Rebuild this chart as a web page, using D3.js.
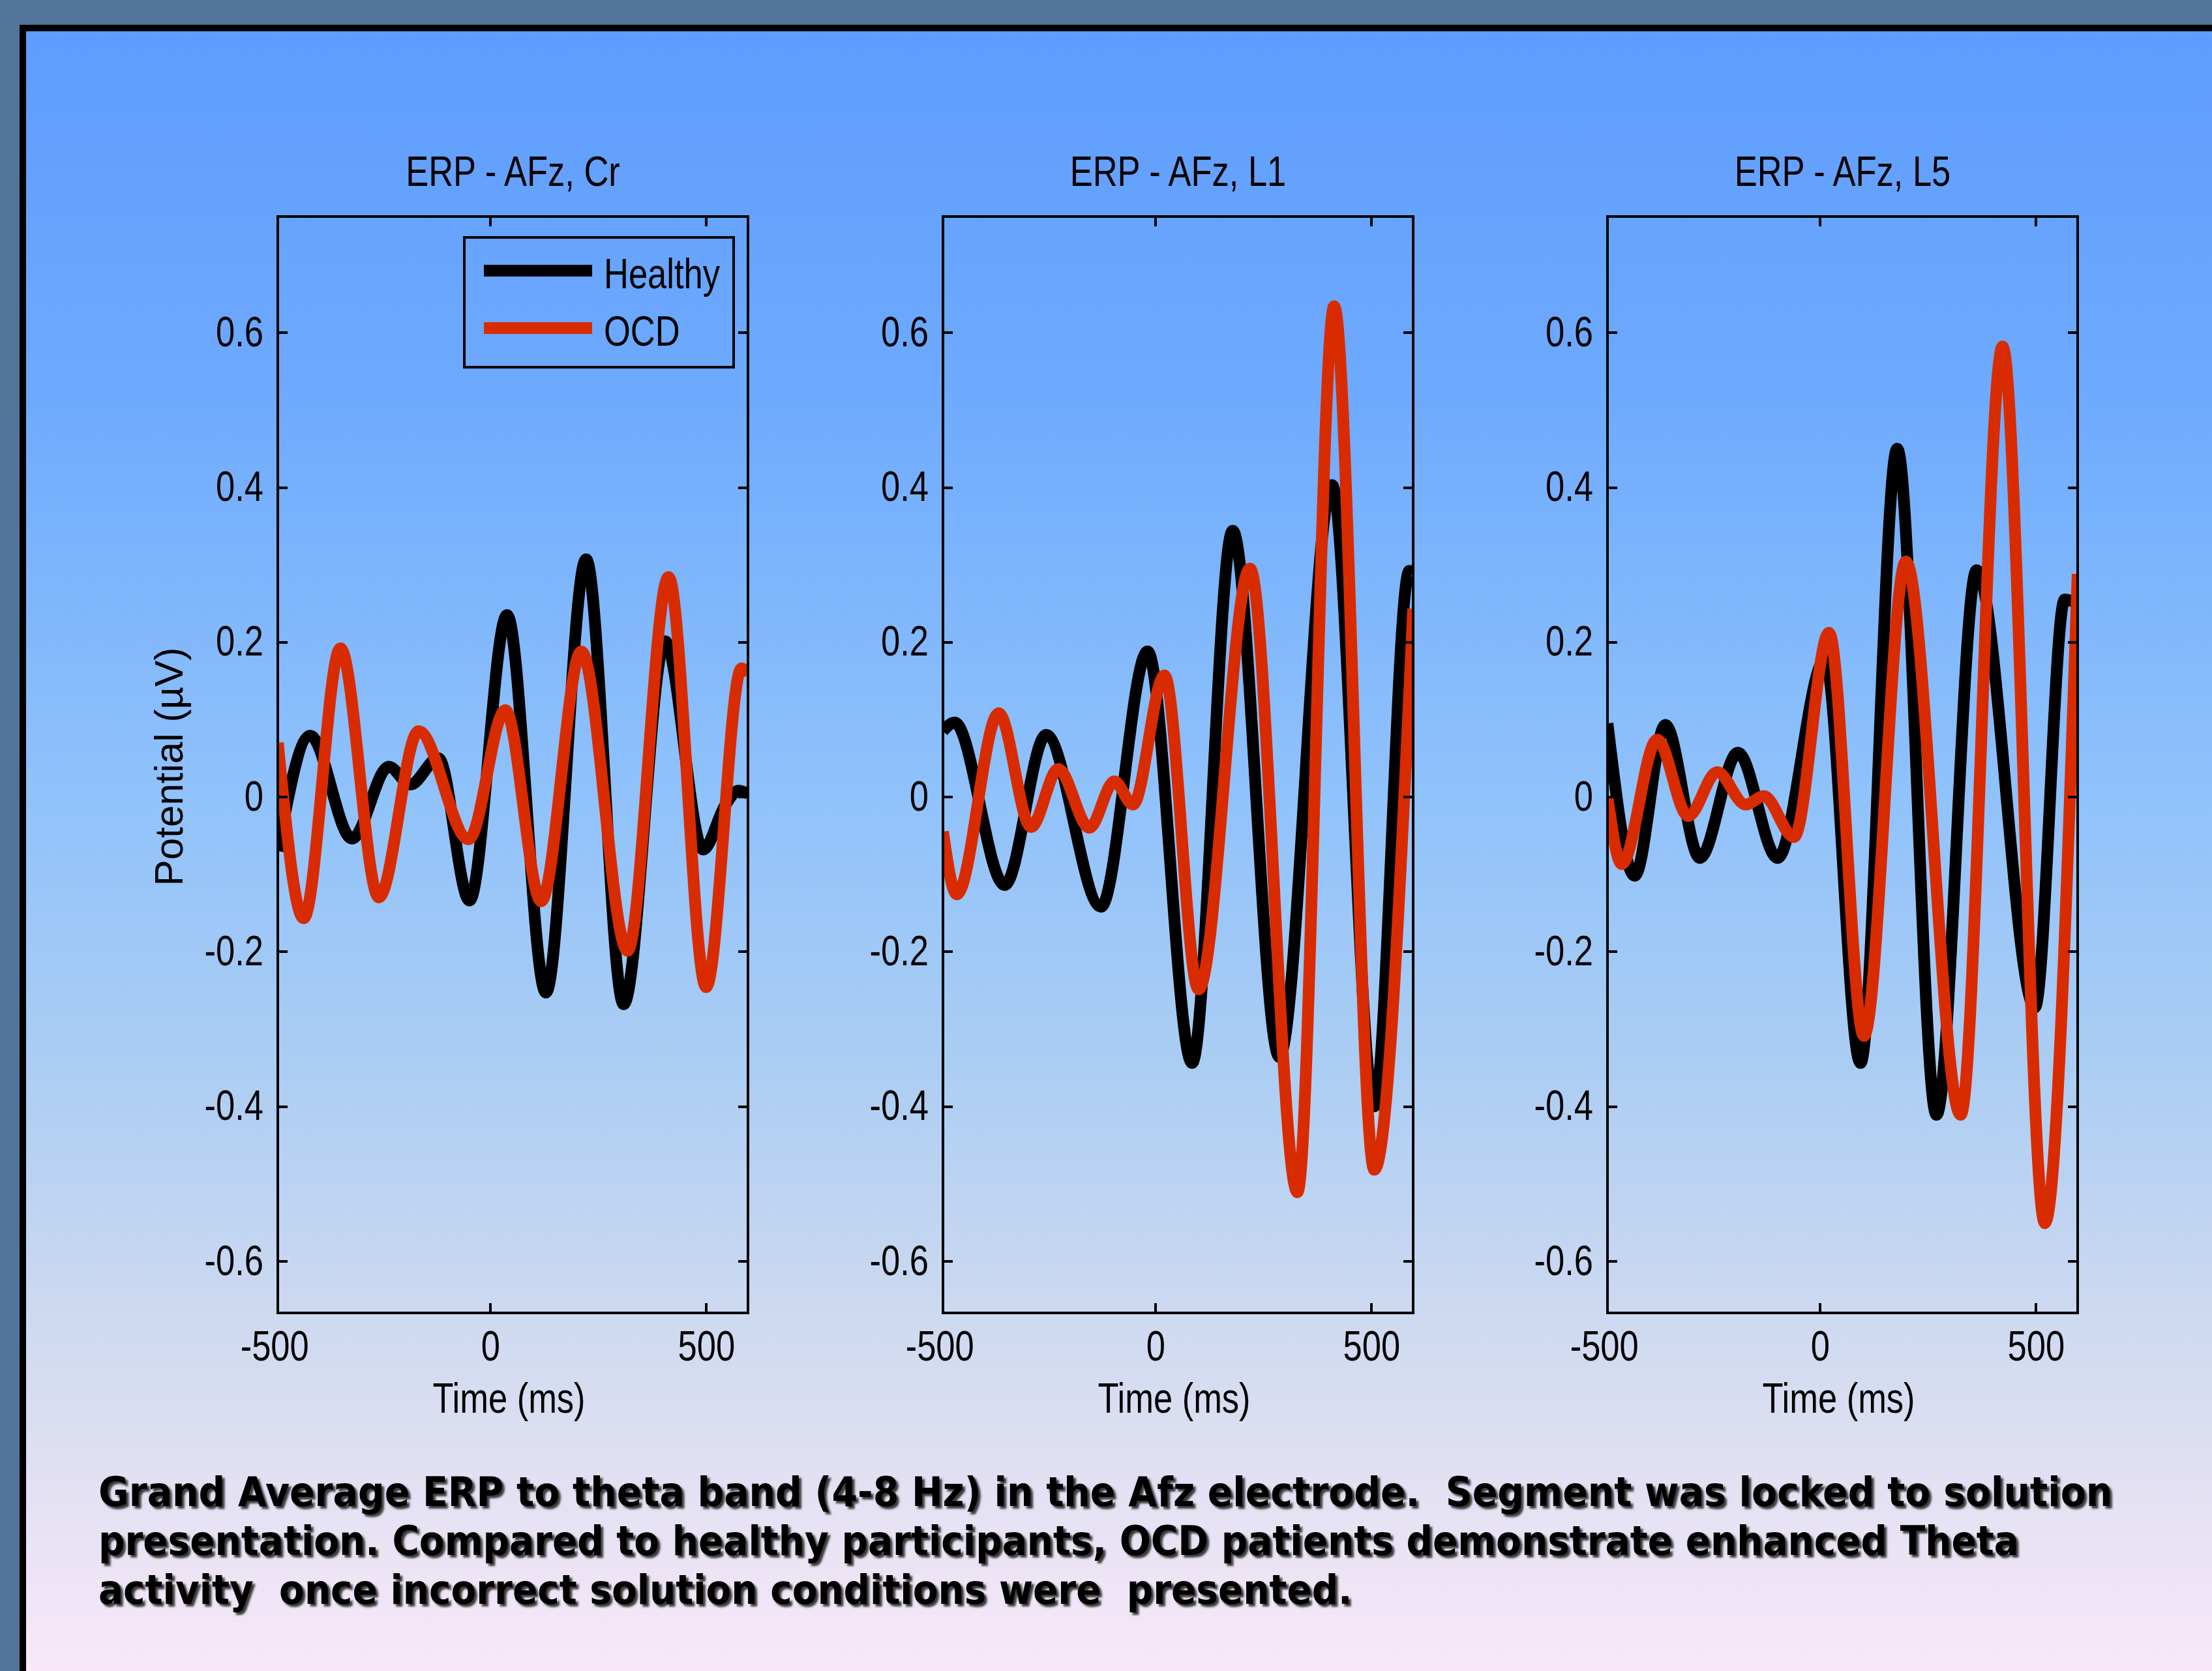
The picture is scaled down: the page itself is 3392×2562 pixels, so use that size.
<!DOCTYPE html>
<html>
<head>
<meta charset="utf-8">
<script src="https://cdn.jsdelivr.net/npm/d3@7"></script>
<style>
  html, body { margin: 0; padding: 0; background: #52739a; }
  svg { display: block; }
  .axis text, .lbl { font-family: "Liberation Sans", Arial, sans-serif; font-size: 64px; fill: #000; }
  .caption { font-family: "DejaVu Sans", Verdana, sans-serif; font-weight: bold; font-size: 62px; fill: #000; white-space: pre; }
</style>
</head>
<body>
<div id="chart"></div>
<script>
"use strict";

// values at each trace's turning points (ms, µV)
var crHealthyTime = [-492, -417, -320, -235, -185, -120, -48, 39, 129, 222, 309, 405, 493, 545, 575, 597];
var crHealthy     = [-0.07, 0.079, -0.054, 0.039, 0.016, 0.05, -0.134, 0.235, -0.253, 0.307, -0.268, 0.201, -0.068, -0.01, 0.008, 0.004];
var crOcdTime = [-492, -432, -347, -258, -166, -50, 35, 118, 211, 318, 413, 500, 582, 597];
var crOcd     = [0.07, -0.157, 0.192, -0.130, 0.085, -0.055, 0.112, -0.135, 0.188, -0.199, 0.284, -0.246, 0.166, 0.158];

var l1HealthyTime = [-492, -465, -349, -253, -126, -18, 85, 179, 287, 409, 507, 588, 597];
var l1Healthy     = [0.085, 0.096, -0.114, 0.080, -0.142, 0.188, -0.344, 0.344, -0.336, 0.403, -0.40, 0.292, 0.29];
var l1OcdTime = [-492, -460, -363, -288, -225, -153, -95, -52, 21, 100, 219, 329, 414, 507, 597];
var l1Ocd     = [-0.045, -0.126, 0.108, -0.039, 0.036, -0.04, 0.02, -0.01, 0.157, -0.249, 0.295, -0.511, 0.634, -0.482, 0.243];

var l5HealthyTime = [-492, -429, -358, -278, -190, -98, 12, 94, 179, 270, 363, 498, 567, 597];
var l5Healthy     = [0.095, -0.102, 0.093, -0.079, 0.057, -0.079, 0.178, -0.344, 0.450, -0.411, 0.293, -0.272, 0.255, 0.25];
var l5OcdTime = [-492, -459, -377, -305, -238, -172, -130, -60, 21, 102, 199, 326, 423, 521, 597];
var l5Ocd     = [0.0, -0.087, 0.074, -0.025, 0.032, -0.01, 0.001, -0.052, 0.212, -0.309, 0.304, -0.411, 0.582, -0.551, 0.288];

var panelTitles = ["ERP - AFz, Cr", "ERP - AFz, L1", "ERP - AFz, L5"];
var seriesNames = ["Healthy", "OCD"];
var xTicks = [-500, 0, 500];
var yTicks = [-0.6, -0.4, -0.2, 0, 0.2, 0.4, 0.6];
var xDomain = [-492, 597];
var yDomain = [-0.667, 0.75];

var caption = [
    "Grand Average ERP to theta band (4-8 Hz) in the Afz electrode.  Segment was locked to solution",
    "presentation. Compared to healthy participants, OCD patients demonstrate enhanced Theta",
    "activity  once incorrect solution conditions were  presented."
];

var panels = [
    {title: panelTitles[0], healthy: d3.zip(crHealthyTime, crHealthy), ocd: d3.zip(crOcdTime, crOcd)},
    {title: panelTitles[1], healthy: d3.zip(l1HealthyTime, l1Healthy), ocd: d3.zip(l1OcdTime, l1Ocd)},
    {title: panelTitles[2], healthy: d3.zip(l5HealthyTime, l5Healthy), ocd: d3.zip(l5OcdTime, l5Ocd)}
];

var W = 3392, H = 2562;
var colors = ["#000000", "#d92b00"];

var svg = d3.select("#chart").append("svg")
    .attr("width", W)
    .attr("height", H);

var defs = svg.append("defs");
var grad = defs.append("linearGradient")
    .attr("id", "bg")
    .attr("x1", 0).attr("y1", 0).attr("x2", 0).attr("y2", 1);
[[0, "#5e9cff"], [0.22, "#6eaafd"], [0.46, "#90c2fb"], [0.62, "#abcdf3"],
 [0.78, "#cfdaf0"], [0.86, "#e0e0f2"], [1, "#fbe9f9"]].forEach(function(s) {
    grad.append("stop").attr("offset", s[0]).attr("stop-color", s[1]);
});
defs.append("filter").attr("id", "soft")
    .append("feGaussianBlur").attr("stdDeviation", 1.6);

// slide
svg.append("rect").attr("width", W).attr("height", H).attr("fill", "#52739a");
svg.append("rect")
    .attr("x", 35).attr("y", 43)
    .attr("width", W + 40).attr("height", H)
    .attr("fill", "url(#bg)")
    .attr("stroke", "#000")
    .attr("stroke-width", 10);

var px = [426, 1446, 2465], pw = 721, plotTop = 332, ph = 2013 - 332;

panels.forEach(function(p, i) {
    var x = d3.scaleLinear().domain(xDomain).range([0, pw]),
        y = d3.scaleLinear().domain(yDomain).range([ph, 0]);

    var g = svg.append("g")
        .attr("transform", "translate(" + px[i] + "," + plotTop + ")");

    defs.append("clipPath").attr("id", "clip" + i)
        .append("rect").attr("width", pw).attr("height", ph);

    var line = d3.line()
        .x(d => x(d[0]))
        .y(d => y(d[1]))
        .curve(d3.curveMonotoneX);

    [p.healthy, p.ocd].forEach(function(s, k) {
        g.append("path")
            .datum(s)
            .attr("clip-path", "url(#clip" + i + ")")
            .attr("fill", "none")
            .attr("stroke", colors[k])
            .attr("stroke-width", 18)
            .attr("stroke-linejoin", "round")
            .attr("d", line);
    });

    // axes, ticks pointing in like matlab
    var fmtY = d => d === 0 ? "0" : d.toFixed(1);
    var fmtX = d => String(d);

    var xb = g.append("g").attr("class", "axis")
        .attr("transform", "translate(0," + ph + ")")
        .call(d3.axisBottom(x).tickValues(xTicks).tickSizeInner(-15).tickSizeOuter(0).tickPadding(28).tickFormat(fmtX));
    xb.selectAll(".tick line").filter(d => d < xDomain[0]).remove();

    g.append("g").attr("class", "axis")
        .call(d3.axisTop(x).tickValues(xTicks.filter(d => d >= xDomain[0])).tickSizeInner(-15).tickSizeOuter(0).tickFormat(""));

    g.append("g").attr("class", "axis")
        .call(d3.axisLeft(y).tickValues(yTicks).tickSizeInner(-15).tickSizeOuter(0).tickPadding(22).tickFormat(fmtY));

    g.append("g").attr("class", "axis")
        .attr("transform", "translate(" + pw + ",0)")
        .call(d3.axisRight(y).tickValues(yTicks).tickSizeInner(-15).tickSizeOuter(0).tickFormat(""));

    g.selectAll(".axis .domain").remove();
    g.selectAll(".axis .tick line").attr("stroke", "#000").attr("stroke-width", 4).attr("shape-rendering", "crispEdges");

    g.append("rect")
        .attr("width", pw).attr("height", ph)
        .attr("fill", "none")
        .attr("stroke", "#000")
        .attr("stroke-width", 4)
        .attr("shape-rendering", "crispEdges");

    g.append("text").attr("class", "lbl")
        .attr("x", pw / 2).attr("y", -47)
        .attr("text-anchor", "middle")
        .text(p.title);

    g.append("text").attr("class", "lbl")
        .attr("x", pw / 2 - 6).attr("y", ph + 153)
        .attr("text-anchor", "middle")
        .text("Time (ms)");

    if (i === 0) {
        g.append("text").attr("class", "ylbl")
            .attr("transform", "translate(-146," + (ph / 2 + 3) + ") rotate(-90)")
            .attr("text-anchor", "middle")
            .style("font-family", "Liberation Sans, Arial, sans-serif")
            .style("font-size", "62px")
            .attr("textLength", 366)
            .attr("lengthAdjust", "spacingAndGlyphs")
            .text("Potential (\u00b5V)");

        var lg = g.append("g").attr("transform", "translate(286,32)");
        lg.append("rect")
            .attr("width", 413).attr("height", 199)
            .attr("fill", "none").attr("stroke", "#000").attr("stroke-width", 4);
        seriesNames.forEach(function(name, k) {
            var ly = 51 + k * 88;
            lg.append("line")
                .attr("x1", 30).attr("x2", 196)
                .attr("y1", ly).attr("y2", ly)
                .attr("stroke", colors[k]).attr("stroke-width", 18);
            lg.append("text").attr("class", "lbl")
                .attr("x", 214).attr("y", ly + 27)
                .text(name);
        });
    }
});

// matlab's font is narrow: squeeze the sans glyphs
svg.selectAll(".axis text, .lbl").each(function() {
    var w = this.getComputedTextLength();
    if (w > 0) d3.select(this).attr("textLength", w * 0.82).attr("lengthAdjust", "spacingAndGlyphs");
});

// caption under the charts, with the slide's soft drop shadow
var capLen = [3089, 2946, 1923];
caption.forEach(function(t, k) {
    var yy = 2309 + k * 75;
    var sh = svg.append("text").attr("class", "caption")
        .style("fill", "#3a3a3a")
        .attr("filter", "url(#soft)")
        .text(t);
    var tx = svg.append("text").attr("class", "caption")
        .text(t);
    var sx = capLen[k] / tx.node().getComputedTextLength();
    sh.attr("transform", "translate(155," + (yy + 4) + ") scale(" + sx + ",1)");
    tx.attr("transform", "translate(151," + yy + ") scale(" + sx + ",1)");
});
</script>
</body>
</html>
